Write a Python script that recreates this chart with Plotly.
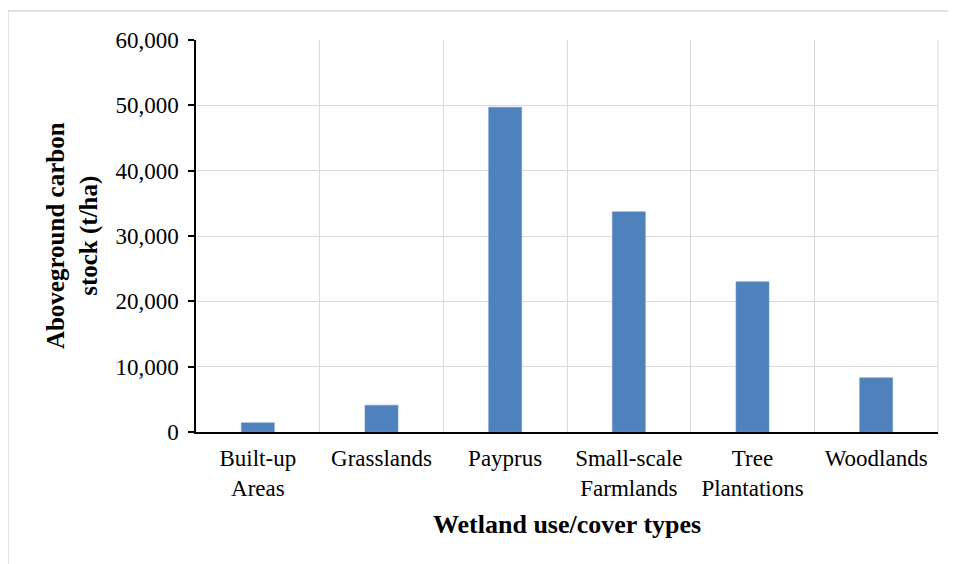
import plotly.graph_objects as go

# Data
categories = ["Built-up<br>Areas", "Grasslands", "Payprus",
              "Small-scale<br>Farmlands", "Tree<br>Plantations", "Woodlands"]
carbon_stock = [1400, 4100, 49700, 33700, 23000, 8300]
y_ticks = [0, 10000, 20000, 30000, 40000, 50000, 60000]

FONT = "Liberation Serif, Times New Roman, serif"
GRID = "#d9d9d9"

fig = go.Figure()

fig.add_trace(go.Bar(
    x=categories,
    y=carbon_stock,
    marker=dict(color="#4f81bd", line=dict(color="#6f97cc", width=0.6)),
))

# page body has an 8px margin, so margins are offset to land the plot area
fig.update_layout(
    width=956,
    height=564,
    margin=dict(l=188, r=26, t=32, b=140),
    paper_bgcolor="white",
    plot_bgcolor="white",
    bargap=0.733,
    showlegend=False,
    font=dict(family=FONT, size=23, color="black"),
    xaxis=dict(
        type="category",
        showgrid=True,
        gridcolor=GRID,
        gridwidth=1,
        tickson="boundaries",
        ticks="",
        showline=True,
        linecolor="black",
        linewidth=1.5,
        ticklabelstandoff=5,
        tickfont=dict(family=FONT, size=23),
    ),
    yaxis=dict(
        range=[0, 60000],
        tickvals=y_ticks,
        tickformat=",",
        showgrid=True,
        gridcolor=GRID,
        gridwidth=1,
        zeroline=False,
        showline=True,
        linecolor="black",
        linewidth=1.5,
        ticks="outside",
        ticklen=6,
        tickcolor="black",
        tickwidth=1.5,
        ticklabelstandoff=5,
        tickfont=dict(family=FONT, size=23),
    ),
)

# right edge of plot area drawn in grid colour
fig.add_shape(type="line", xref="paper", yref="paper", x0=1, x1=1, y0=0, y1=1,
              line=dict(color=GRID, width=1))

# outer chart border (left/top visible in the reference)
fig.add_shape(type="rect", xref="paper", yref="paper",
              x0=-0.2534, x1=1.2, y0=-1.0, y1=1.074,
              line=dict(color=GRID, width=1.5), layer="below")

# axis titles
fig.add_annotation(
    text="<b>Aboveground carbon<br>stock (t/ha)</b>",
    xref="paper", yref="paper", x=-0.167, y=0.5,
    xanchor="center", yanchor="middle", textangle=-90,
    showarrow=False, font=dict(family=FONT, size=25),
)
fig.add_annotation(
    text="<b>Wetland use/cover types</b>",
    xref="paper", yref="paper", x=0.5, y=-0.237,
    xanchor="center", yanchor="middle",
    showarrow=False, font=dict(family=FONT, size=26),
)

fig.write_html("out.html")
